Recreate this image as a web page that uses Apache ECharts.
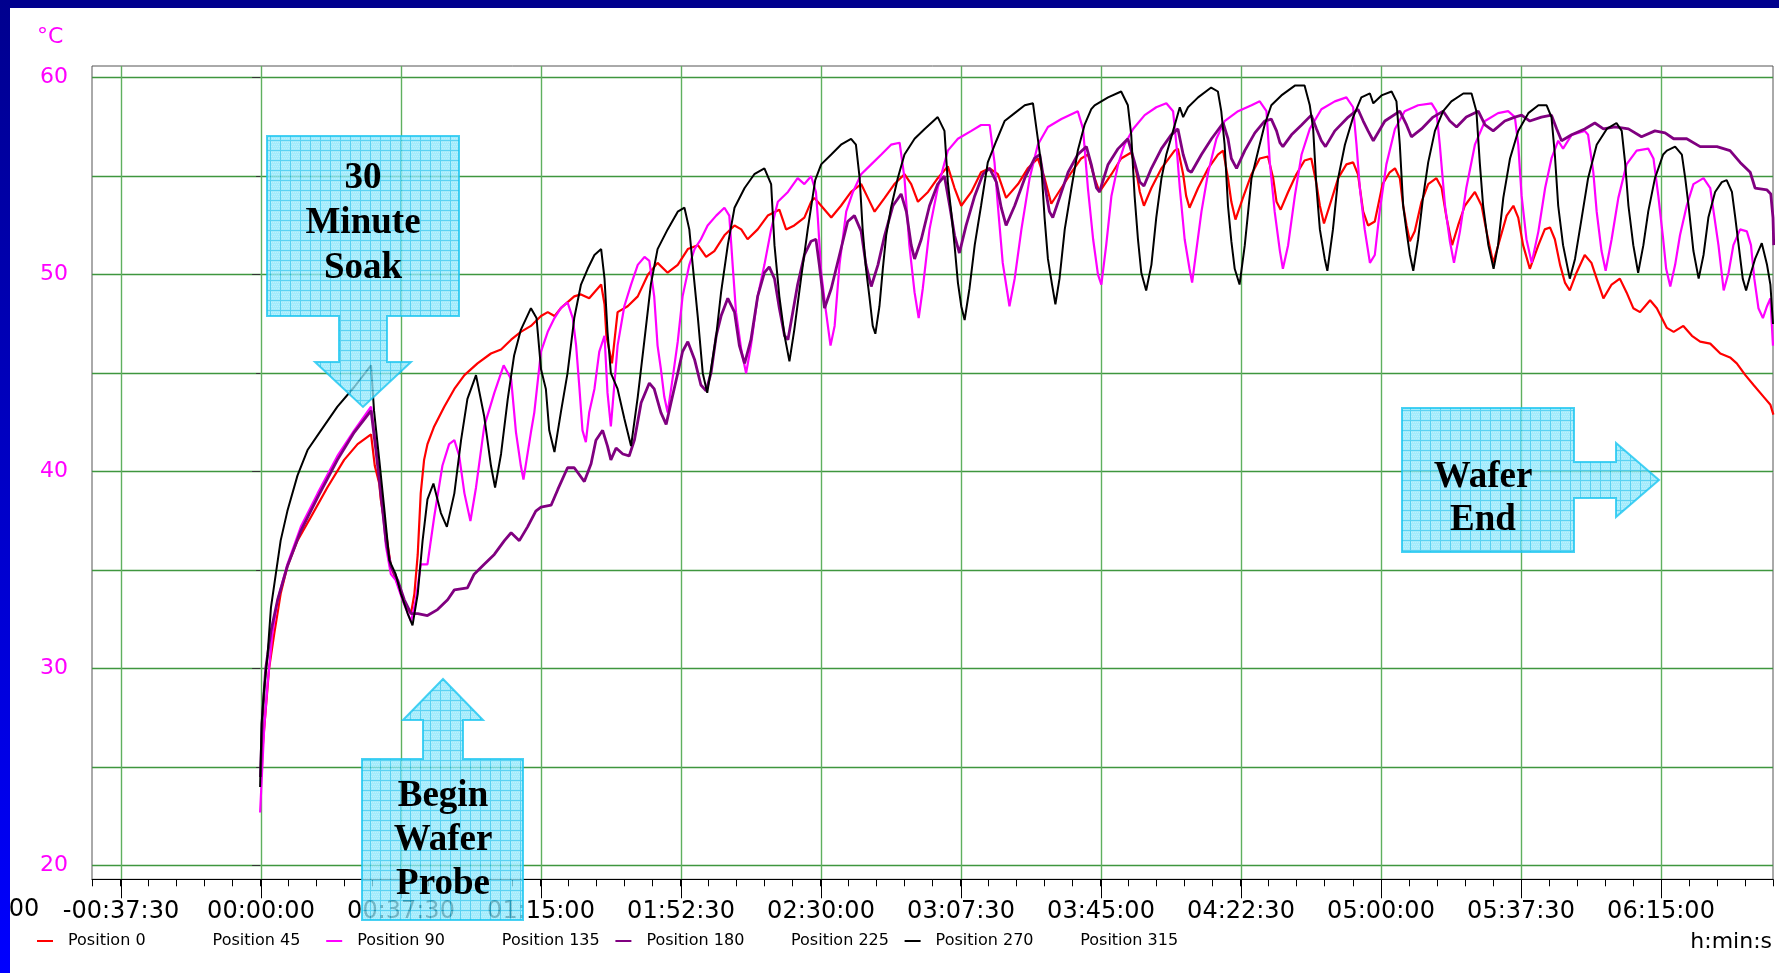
<!DOCTYPE html>
<html lang="en">
<head>
<meta charset="UTF-8">
<title>Wafer temperature</title>
<style>
  html, body { margin: 0; padding: 0; background: #fff; }
  #chart { width: 1779px; height: 973px; }
</style>
<script src="https://cdn.jsdelivr.net/npm/echarts@6/dist/echarts.min.js"></script>
</head>
<body>
<div id="chart"></div>
<script>
// time in minutes, temperature in degC
var names = ['Position 0', 'Position 45', 'Position 90', 'Position 135',
             'Position 180', 'Position 225', 'Position 270', 'Position 315'];
var colors = ['#ff0000', '#ffffff', '#ff00ff', '#ffffff', '#800080', '#ffffff', '#000000', '#ffffff'];

var pos0 = [[0.5,25.0],[0.6,25.8],[2.4,30.0],[3.8,31.8],[5.5,33.8],[7.3,35.2],[10.0,36.5],[13.6,37.7],[18.0,39.2],[22.5,40.6],[26.1,41.4],[29.7,41.9],[30.7,40.3],[31.9,39.4],[32.3,38.6],[33.7,36.9],[35.0,35.2],[36.8,34.3],[38.6,33.3],[40.4,32.8],[41.3,33.8],[42.2,35.8],[43.0,38.9],[43.9,40.6],[44.8,41.4],[46.6,42.3],[49.3,43.3],[52.0,44.2],[54.7,44.9],[58.2,45.5],[61.8,46.0],[64.5,46.2],[67.2,46.7],[69.8,47.1],[72.5,47.4],[75.2,47.9],[77.0,48.1],[78.8,47.9],[80.5,48.3],[84.1,48.9],[85.9,49.0],[88.1,48.8],[91.3,49.5],[92.2,48.5],[92.7,46.9],[94.2,45.5],[95.7,48.1],[98.4,48.4],[101.1,48.9],[103.8,50.0],[106.4,50.6],[109.1,50.1],[111.8,50.5],[114.5,51.3],[117.2,51.5],[119.4,50.9],[121.6,51.2],[124.3,52.0],[127.0,52.5],[128.8,52.3],[130.5,51.8],[133.2,52.3],[135.9,53.0],[139.0,53.3],[140.8,52.3],[143.0,52.5],[145.7,52.9],[147.5,53.7],[148.4,53.9],[150.2,53.5],[152.9,52.9],[155.5,53.5],[158.2,54.2],[160.9,54.6],[162.7,53.9],[164.5,53.2],[167.2,53.9],[169.8,54.6],[172.5,55.1],[174.3,54.6],[176.1,53.7],[178.8,54.2],[181.4,54.9],[184.1,55.5],[185.9,54.4],[187.7,53.5],[190.4,54.2],[193.0,55.2],[195.3,55.4],[197.5,55.1],[199.7,53.9],[202.9,54.6],[205.5,55.4],[208.2,55.9],[210.0,54.9],[211.8,53.6],[214.5,54.4],[217.2,55.2],[219.8,55.9],[221.6,56.1],[223.4,54.9],[224.7,54.2],[227.9,55.1],[230.5,55.9],[233.2,56.2],[234.6,55.2],[235.5,54.2],[236.6,53.5],[238.6,54.4],[241.3,55.4],[244.8,56.3],[245.7,56.4],[247.1,55.1],[247.9,54.0],[248.8,53.4],[251.1,54.4],[253.8,55.4],[256.4,56.1],[257.8,56.3],[259.1,54.9],[260.0,53.7],[261.1,52.8],[263.1,53.9],[265.4,55.1],[267.6,55.9],[269.8,56.0],[271.2,54.9],[272.1,53.7],[273.2,53.3],[275.2,54.2],[277.4,55.1],[279.6,55.8],[281.4,55.9],[282.8,54.6],[283.7,53.5],[284.8,52.6],[286.3,53.5],[288.6,54.9],[290.8,55.6],[292.6,55.7],[293.9,55.1],[295.3,53.2],[296.6,52.5],[298.4,52.7],[300.5,54.6],[302.4,55.2],[303.8,55.4],[305.1,54.9],[306.0,53.5],[306.9,52.5],[307.8,51.7],[309.1,52.2],[310.9,53.7],[312.7,54.6],[314.9,54.9],[316.3,54.4],[317.6,52.9],[319.1,51.5],[320.7,52.5],[322.5,53.5],[325.2,54.2],[327.0,53.5],[328.3,52.2],[330.1,50.6],[331.9,51.8],[333.7,53.0],[335.5,53.5],[336.8,52.9],[338.1,51.5],[339.9,50.3],[342.2,51.5],[343.9,52.3],[345.3,52.4],[346.6,51.8],[348.0,50.5],[349.3,49.6],[350.6,49.2],[352.4,50.1],[354.6,51.0],[356.4,50.6],[357.8,49.8],[359.6,48.8],[361.8,49.5],[364.0,49.8],[365.8,49.1],[367.6,48.3],[369.4,48.1],[372.1,48.7],[373.9,48.3],[376.6,47.3],[378.4,47.1],[381.0,47.4],[383.3,46.9],[385.5,46.6],[388.2,46.5],[390.9,46.0],[393.5,45.8],[395.3,45.5],[397.6,44.9],[399.8,44.4],[402.5,43.8],[404.3,43.4],[405.1,42.9]];

var pos90 = [[0.0,22.7],[1.1,27.0],[2.0,29.2],[3.3,31.8],[4.7,33.5],[7.3,35.3],[10.9,37.2],[15.4,38.9],[20.7,40.8],[25.2,42.1],[29.7,43.3],[31.0,41.3],[32.3,39.2],[33.7,36.2],[35.0,34.8],[36.3,34.5],[38.1,33.5],[40.4,32.4],[41.7,33.5],[43.0,35.3],[44.8,35.3],[46.6,37.7],[48.8,40.3],[50.6,41.4],[52.0,41.6],[53.3,40.8],[54.7,38.9],[56.3,37.5],[57.8,39.2],[60.0,42.3],[62.7,44.0],[65.2,45.4],[67.2,44.7],[68.5,42.0],[69.8,40.3],[70.5,39.6],[72.5,42.0],[73.4,43.0],[75.2,46.1],[77.0,47.1],[78.8,47.8],[80.5,48.3],[82.3,48.6],[83.7,47.8],[84.6,46.4],[85.5,44.2],[86.3,42.1],[87.2,41.5],[88.1,43.0],[89.5,44.2],[90.8,46.1],[92.2,46.9],[93.0,44.0],[93.9,42.3],[95.7,46.4],[97.5,48.4],[99.3,49.5],[101.1,50.5],[102.9,50.9],[104.2,50.7],[105.5,48.9],[106.4,46.4],[107.3,45.2],[108.2,43.8],[109.1,43.0],[110.4,44.7],[111.8,46.6],[113.1,48.9],[114.9,50.5],[116.3,51.3],[118.0,51.8],[119.8,52.5],[122.1,53.0],[124.3,53.4],[125.6,53.0],[126.5,50.5],[127.4,48.1],[128.8,46.2],[130.1,45.0],[131.4,46.4],[133.2,48.9],[135.0,50.5],[136.8,52.3],[138.6,53.7],[141.3,54.2],[143.9,54.9],[145.7,54.6],[147.5,55.0],[148.8,54.2],[149.3,52.9],[150.2,50.1],[151.5,48.1],[152.7,46.4],[153.8,47.4],[155.1,50.5],[156.9,53.2],[158.7,54.2],[160.9,55.1],[163.6,55.6],[166.3,56.1],[168.9,56.6],[171.2,56.7],[172.5,54.9],[173.8,51.5],[175.2,49.1],[176.3,47.8],[177.4,49.3],[179.2,52.3],[181.4,54.4],[184.1,56.3],[186.8,56.9],[190.4,57.3],[193.0,57.6],[195.3,57.6],[196.6,55.7],[197.5,53.5],[198.8,50.6],[200.6,48.4],[202.0,49.8],[203.8,52.3],[206.0,54.9],[208.2,56.6],[210.9,57.5],[214.5,57.9],[218.9,58.3],[220.3,57.4],[221.6,54.4],[223.0,51.8],[224.3,50.0],[225.2,49.5],[226.5,51.5],[227.9,54.0],[229.7,55.6],[231.4,56.6],[233.7,57.4],[236.8,58.1],[239.9,58.5],[242.6,58.7],[244.4,58.3],[245.3,56.6],[246.2,54.4],[247.5,51.8],[248.8,50.3],[249.5,49.6],[250.6,51.2],[252.0,53.2],[253.8,55.2],[256.0,56.9],[258.2,57.8],[261.8,58.3],[265.4,58.6],[267.6,58.8],[269.4,58.3],[270.3,55.7],[271.6,53.2],[273.0,51.2],[273.8,50.3],[275.2,51.5],[277.0,54.0],[278.8,56.1],[281.0,57.4],[284.1,58.4],[287.7,58.8],[290.8,59.0],[292.6,58.5],[293.5,56.6],[294.4,54.4],[295.7,52.3],[297.1,50.6],[298.4,51.0],[299.7,53.2],[301.5,55.6],[303.8,57.4],[306.4,58.3],[310.0,58.6],[313.6,58.7],[314.9,58.3],[315.8,56.6],[317.2,53.5],[318.5,51.7],[319.6,50.6],[321.2,52.2],[322.9,54.4],[325.2,56.6],[327.9,57.8],[331.4,58.2],[334.1,58.3],[335.9,58.0],[336.8,56.6],[337.7,54.0],[339.0,51.8],[340.4,50.6],[342.2,52.2],[344.0,54.4],[345.7,55.9],[347.5,56.8],[348.8,56.4],[351.1,57.1],[354.6,57.3],[355.5,57.1],[356.9,55.2],[357.8,53.2],[359.1,51.2],[360.2,50.2],[361.8,51.8],[363.6,53.9],[365.8,55.6],[368.5,56.3],[371.6,56.4],[373.0,55.9],[374.3,54.0],[375.6,51.8],[376.4,50.3],[377.5,49.4],[378.8,50.5],[380.1,52.0],[381.9,53.5],[383.7,54.6],[386.4,54.9],[388.2,54.4],[389.1,53.2],[390.4,51.5],[391.8,49.2],[393.1,50.1],[394.4,51.5],[396.2,52.3],[398.0,52.2],[399.1,51.5],[400.0,49.8],[401.1,48.3],[402.3,47.8],[403.4,48.4],[404.3,48.8],[405.0,46.4]];

var pos180 = [[0.1,24.5],[0.6,27.5],[1.5,30.0],[2.9,31.9],[4.7,33.5],[7.3,35.2],[10.9,37.0],[15.4,38.7],[20.7,40.6],[25.2,42.0],[29.7,43.1],[31.0,41.1],[32.3,38.9],[33.7,36.5],[35.0,35.2],[36.8,34.5],[38.6,33.5],[40.4,32.8],[42.2,32.8],[44.8,32.7],[47.5,33.0],[50.2,33.5],[52.0,34.0],[55.5,34.1],[57.3,34.8],[60.0,35.3],[62.7,35.8],[65.4,36.5],[67.2,36.9],[69.4,36.5],[71.6,37.2],[73.8,38.0],[75.2,38.2],[77.9,38.3],[79.7,39.1],[82.3,40.2],[84.1,40.2],[86.8,39.5],[88.6,40.4],[89.9,41.6],[91.7,42.1],[93.0,41.3],[93.9,40.6],[95.3,41.2],[97.1,40.9],[98.8,40.8],[100.2,41.6],[102.0,43.5],[104.2,44.5],[105.5,44.2],[107.3,43.0],[108.7,42.4],[110.0,43.5],[111.8,45.0],[113.1,46.1],[114.5,46.6],[116.3,45.7],[118.0,44.4],[119.4,44.1],[120.7,45.0],[122.1,46.9],[123.4,47.9],[125.2,48.8],[127.0,48.1],[128.3,46.4],[129.7,45.5],[131.4,46.7],[133.2,48.9],[135.0,50.1],[136.3,50.4],[137.7,49.8],[139.0,48.3],[140.4,46.9],[141.3,46.7],[142.6,48.1],[143.9,49.5],[145.7,51.0],[147.5,51.7],[148.8,51.8],[149.7,50.5],[151.1,48.3],[152.9,49.3],[155.1,51.0],[157.3,52.7],[159.1,53.0],[160.9,52.2],[162.2,50.5],[163.6,49.4],[165.4,50.5],[167.2,52.0],[169.4,53.5],[171.6,54.1],[173.0,53.2],[174.3,51.5],[175.2,50.8],[177.0,51.8],[179.2,53.5],[181.4,54.6],[183.2,55.0],[184.6,53.5],[185.9,52.0],[187.2,51.1],[189.0,52.5],[191.3,54.0],[193.5,55.1],[195.3,55.4],[197.1,54.7],[198.4,53.4],[199.7,52.5],[202.0,53.5],[204.7,54.9],[207.3,55.9],[208.7,56.1],[210.0,54.6],[211.3,53.2],[212.2,52.9],[214.0,53.9],[216.3,55.2],[218.9,56.1],[221.2,56.5],[222.5,55.6],[223.9,54.4],[224.7,54.2],[227.0,55.6],[229.7,56.4],[232.3,56.9],[234.1,55.7],[235.5,54.7],[236.6,54.5],[238.6,55.4],[241.3,56.4],[243.9,57.1],[245.7,57.4],[247.1,56.1],[248.4,55.3],[249.3,55.2],[252.0,56.1],[254.7,56.9],[257.8,57.7],[259.1,56.9],[260.0,55.9],[261.4,55.4],[263.6,56.3],[266.3,57.2],[268.9,57.8],[270.7,57.9],[272.1,57.3],[273.0,56.7],[273.8,56.5],[276.1,57.1],[278.8,57.6],[281.4,58.1],[282.8,57.4],[284.1,56.8],[285.2,56.5],[287.7,57.3],[291.3,58.0],[293.9,58.4],[295.3,57.8],[296.6,57.3],[298.0,56.8],[298.4,56.9],[301.1,57.8],[305.1,58.3],[306.9,57.6],[308.2,57.0],[310.9,57.4],[314.0,58.0],[316.7,58.3],[318.5,57.8],[320.3,57.5],[322.9,58.0],[326.1,58.3],[327.9,57.6],[330.1,57.3],[333.2,57.8],[335.9,58.0],[337.7,58.1],[339.9,57.8],[343.0,58.0],[345.7,58.1],[347.1,57.4],[348.4,56.8],[351.1,57.1],[354.6,57.4],[357.3,57.7],[359.6,57.4],[362.7,57.5],[366.3,57.4],[369.8,57.0],[373.4,57.3],[376.1,57.2],[378.4,56.9],[381.9,56.9],[385.5,56.5],[390.0,56.5],[393.5,56.3],[396.2,55.7],[398.9,55.2],[400.2,54.4],[403.4,54.3],[404.4,54.1],[405.0,52.9],[405.2,51.5]];

var pos270 = [[0.0,24.0],[0.4,27.2],[1.1,29.0],[2.0,30.7],[2.9,33.1],[4.2,34.8],[5.5,36.5],[7.3,38.0],[10.0,39.8],[12.7,41.1],[16.3,42.1],[20.7,43.3],[25.2,44.3],[29.7,45.4],[30.5,43.1],[31.9,40.6],[33.2,38.2],[34.6,35.5],[36.3,34.8],[37.7,33.8],[39.5,32.8],[40.8,32.2],[42.2,33.8],[43.5,36.5],[44.8,38.6],[46.4,39.4],[48.4,37.9],[50.0,37.2],[52.0,38.9],[53.8,41.6],[55.5,43.7],[57.8,44.9],[60.0,42.8],[61.8,40.3],[62.9,39.2],[64.5,40.9],[66.3,43.7],[68.0,45.9],[69.8,47.2],[72.5,48.3],[74.0,47.8],[75.2,45.2],[76.5,44.2],[77.4,42.1],[78.8,41.0],[80.5,43.0],[82.3,45.0],[84.1,47.8],[85.9,49.5],[87.7,50.3],[89.5,51.0],[91.3,51.3],[92.2,49.8],[93.0,47.1],[93.9,45.0],[95.7,44.2],[97.5,42.7],[99.3,41.3],[101.1,43.8],[102.9,46.7],[104.6,49.5],[106.4,51.3],[109.1,52.3],[111.8,53.2],[113.6,53.4],[114.9,52.3],[115.8,50.5],[117.2,47.8],[118.5,45.0],[119.7,44.0],[120.7,45.2],[122.1,46.9],[123.4,49.1],[125.2,51.5],[127.0,53.4],[129.7,54.4],[132.3,55.1],[135.0,55.4],[136.8,54.6],[137.7,51.5],[139.0,48.9],[140.4,46.9],[141.7,45.6],[143.0,47.2],[144.8,49.8],[146.6,52.3],[148.6,54.8],[150.2,55.6],[152.9,56.1],[155.5,56.6],[158.2,56.9],[159.5,56.6],[160.5,54.9],[161.3,52.3],[162.2,50.3],[163.1,48.9],[164.0,47.4],[164.7,47.0],[165.8,48.4],[166.7,50.3],[167.6,52.0],[168.9,53.4],[170.7,54.9],[172.5,56.1],[175.2,56.9],[177.9,57.4],[181.4,58.0],[183.2,57.3],[184.1,54.7],[185.0,53.2],[185.9,51.5],[186.8,49.6],[187.7,48.4],[188.6,47.7],[189.9,49.3],[191.3,51.5],[193.0,53.5],[194.8,55.7],[197.1,56.8],[199.3,57.8],[202.0,58.2],[204.7,58.6],[206.9,58.7],[208.2,56.9],[209.1,55.6],[210.0,52.9],[210.9,50.8],[212.0,49.5],[212.9,48.5],[214.0,49.8],[215.4,52.3],[217.2,54.4],[218.9,56.3],[220.7,57.6],[222.5,58.4],[223.4,58.6],[227.0,59.0],[230.5,59.3],[232.3,58.6],[233.2,57.1],[234.1,54.0],[235.0,51.8],[235.9,50.1],[237.2,49.2],[238.6,50.5],[239.9,52.9],[241.3,54.9],[242.6,56.1],[244.4,57.3],[246.2,58.5],[247.1,58.0],[248.4,58.5],[251.1,59.0],[254.6,59.5],[256.4,59.3],[257.3,58.3],[258.2,56.6],[259.1,53.5],[260.0,51.7],[260.9,50.3],[262.2,49.5],[263.6,51.5],[265.4,54.9],[267.2,56.3],[268.9,57.6],[270.7,58.6],[273.4,59.1],[277.0,59.6],[279.6,59.6],[281.0,58.6],[281.9,57.4],[282.8,54.4],[283.7,52.3],[285.0,50.8],[285.7,50.2],[287.2,52.3],[288.6,54.9],[290.4,56.6],[292.6,58.0],[294.8,59.0],[297.1,59.2],[298.0,58.7],[300.2,59.1],[302.9,59.3],[304.2,58.8],[305.1,56.6],[306.0,53.5],[306.9,52.2],[307.8,51.0],[308.7,50.2],[310.0,51.8],[311.3,53.9],[312.7,55.7],[314.5,57.3],[316.7,58.3],[318.9,58.8],[322.1,59.2],[324.3,59.2],[325.6,58.3],[326.5,55.7],[327.4,53.5],[328.8,51.5],[330.2,50.3],[331.4,51.5],[332.8,53.9],[334.6,55.9],[336.8,57.3],[339.5,58.2],[342.2,58.6],[344.4,58.6],[345.7,58.0],[346.6,56.1],[347.5,53.5],[348.8,51.5],[350.6,49.8],[352.0,50.8],[353.8,52.9],[355.5,54.9],[357.8,56.6],[360.5,57.4],[363.1,57.7],[364.5,57.3],[365.4,55.7],[366.3,53.5],[367.6,51.5],[368.9,50.1],[370.3,51.5],[371.6,53.2],[373.4,54.9],[375.6,56.1],[376.6,56.3],[378.8,56.5],[380.6,56.1],[381.5,54.9],[382.4,53.5],[383.7,51.2],[385.1,49.8],[386.4,51.0],[387.7,52.9],[389.5,54.2],[391.3,54.7],[392.6,54.8],[394.0,54.2],[394.9,52.9],[395.8,51.5],[396.9,49.8],[397.8,49.2],[399.1,50.1],[400.2,50.8],[402.0,51.6],[403.4,50.5],[404.3,49.5],[405.0,47.5]];

var seriesData = [pos0, [], pos90, [], pos180, [], pos270, []];
var lineWidths = [2.2, 1, 2.2, 1, 2.8, 1, 2, 1];

function hms(v) {
    var s = Math.round(Math.abs(v) * 60);
    var p = function (n) { return (n < 10 ? '0' : '') + n; };
    return (v < 0 ? '-' : '') + p(Math.floor(s / 3600)) + ':' + p(Math.floor(s % 3600 / 60)) + ':' + p(s % 60);
}

// light cyan squared fill of the callout arrows
function makeHatch() {
    var c = document.createElement('canvas');
    c.width = 10; c.height = 10;
    var g = c.getContext('2d');
    g.fillStyle = '#8ae6fb';
    g.fillRect(0, 0, 10, 10);
    g.fillStyle = '#a9effd';
    for (var i = 0; i < 10; i += 2) {
        for (var j = (i / 2) % 2; j < 10; j += 2) g.fillRect(j, i, 1, 1);
    }
    g.fillStyle = '#2cc6ef';
    g.fillRect(0, 0, 10, 1);
    g.fillRect(0, 0, 1, 10);
    return c;
}
var hatch = makeHatch();

function callout(points, text, cx, cy, lh) {
    return [{
        type: 'polygon', z: 100,
        shape: { points: points },
        style: { fill: { image: hatch, repeat: 'repeat' }, stroke: '#16c4f0', lineWidth: 2, opacity: 0.78 }
    }, {
        type: 'text', z: 101, x: cx, y: cy,
        style: {
            text: text, font: 'bold 37px "Liberation Serif"', fill: '#000',
            textAlign: 'center', textVerticalAlign: 'middle', align: 'center', verticalAlign: 'middle',
            lineHeight: lh
        }
    }];
}

var chart = echarts.init(document.getElementById('chart'));

var series = names.map(function (n, i) {
    return {
        name: n, type: 'line', xAxisIndex: 0, yAxisIndex: 0,
        data: seriesData[i], showSymbol: false, symbol: 'none',
        color: colors[i],
        lineStyle: { color: colors[i], width: lineWidths[i] }
    };
});

// one legend block per position, fixed slot width like the original
var legends = names.map(function (n, i) {
    return {
        data: [n], left: 37 + i * 144.6, top: 933, padding: 0,
        icon: 'rect', itemWidth: 16, itemHeight: 2, selectedMode: false,
        textStyle: { fontFamily: 'DejaVu Sans', fontSize: 16, color: '#000', padding: [0, 0, 0, 10] }
    };
});

var graphics = [
    // blue slide border
    { type: 'rect', z: 120, shape: { x: 0, y: 0, width: 1779, height: 8 }, style: { fill: '#00008e' } },
    { type: 'rect', z: 120, shape: { x: 0, y: 0, width: 10, height: 973 },
      style: { fill: new echarts.graphic.LinearGradient(0, 0, 0, 1, [
          { offset: 0, color: '#00008e' }, { offset: 1, color: '#0000ff' }]) } },
    { type: 'text', z: 50, x: 37, y: 37,
      style: { text: '°C', font: '22px "DejaVu Sans"', fill: '#ff00ff', textVerticalAlign: 'middle', verticalAlign: 'middle' } },
    // first time label, it sits left of the plot and is cut by the page edge
    { type: 'text', z: 50, x: 261 - 75 * 3.7333, y: 910,
      style: { text: hms(-75), font: '24px "DejaVu Sans"', fill: '#000',
               textAlign: 'center', align: 'center', textVerticalAlign: 'middle', verticalAlign: 'middle' } },
    { type: 'text', z: 50, x: 1772, y: 942,
      style: { text: 'h:min:s', font: '22px "DejaVu Sans"', fill: '#000',
               textAlign: 'right', align: 'right', textVerticalAlign: 'middle', verticalAlign: 'middle' } }
]
.concat(callout([[267,136],[459,136],[459,316],[387,316],[387,362],[411,362],[363,407],[315,362],[339,362],[339,316],[267,316]],
                '30\nMinute\nSoak', 363, 223, 45))
.concat(callout([[362,920],[523,920],[523,759],[463,759],[463,720],[483,720],[443,679],[403,720],[423,720],[423,759],[362,759]],
                'Begin\nWafer\nProbe', 443, 840, 44))
.concat(callout([[1402,408],[1574,408],[1574,462],[1616,462],[1616,443],[1659,480],[1616,517],[1616,498],[1574,498],[1574,552],[1402,552]],
                'Wafer\nEnd', 1483, 499, 43));

var option = {
    animation: false,
    backgroundColor: '#fff',
    grid: [
        // data area: 20..60 degC
        { left: 92, right: 6, top: 77.7, bottom: 107.3 },
        // frame with minor time ticks
        { left: 92, right: 6, top: 66, bottom: 93.7, show: true, borderColor: '#555', borderWidth: 1, backgroundColor: 'transparent' },
        // major time ticks/labels, -00:37:30 .. 06:15:00
        { left: 121, right: 118, top: 66, bottom: 93.7 }
    ],
    xAxis: [
        { gridIndex: 0, type: 'value', min: -45, max: 405, show: false },
        { gridIndex: 1, type: 'value', min: -45, max: 405, interval: 7.5,
          axisLine: { show: true, lineStyle: { color: '#000', width: 1 } },
          axisTick: { show: true, length: 7, lineStyle: { color: '#000' } },
          axisLabel: { show: false }, splitLine: { show: false } },
        { gridIndex: 2, type: 'value', min: -37.5, max: 375, interval: 37.5,
          axisLine: { show: false },
          axisTick: { show: true, length: 19, lineStyle: { color: '#000' } },
          axisLabel: { show: true, margin: 20, formatter: hms, color: '#000',
                       fontFamily: 'DejaVu Sans', fontSize: 24 },
          splitLine: { show: true, lineStyle: { color: '#5fb05f', width: 1.4 } } }
    ],
    yAxis: [
        { gridIndex: 0, type: 'value', min: 20, max: 60, interval: 10,
          axisLine: { show: false },
          axisTick: { show: true, length: 8, lineStyle: { color: '#333' } },
          minorTick: { show: true, splitNumber: 2, length: 4, lineStyle: { color: '#333' } },
          axisLabel: { color: '#ff00ff', fontFamily: 'DejaVu Sans', fontSize: 22, margin: 24 },
          splitLine: { show: true, lineStyle: { color: '#3f963f', width: 1.4 } },
          minorSplitLine: { show: true, lineStyle: { color: '#3f963f', width: 1.4 } } },
        { gridIndex: 1, type: 'value', min: 0, max: 1, show: false },
        { gridIndex: 2, type: 'value', min: 0, max: 1, show: false }
    ],
    legend: legends,
    series: series,
    graphic: graphics
};
chart.setOption(option);
</script>
</body>
</html>
